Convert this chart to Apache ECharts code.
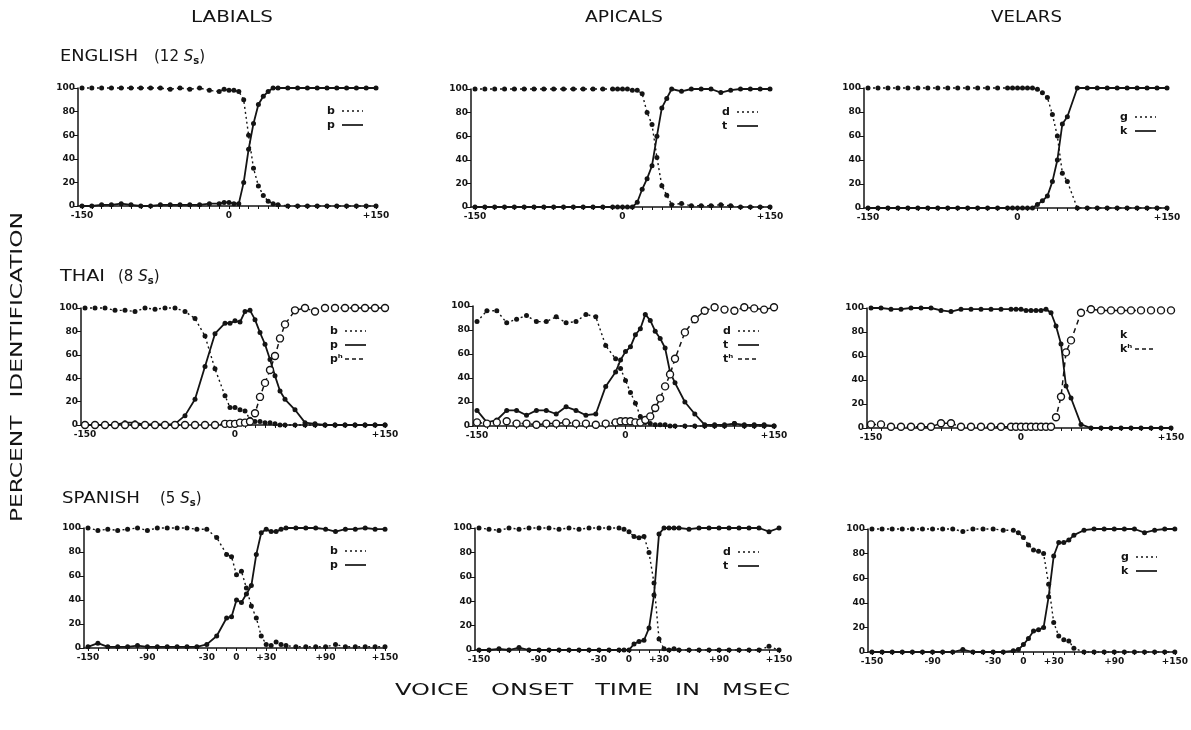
<!DOCTYPE html>
<html>
<head>
<meta charset="utf-8">
<script src="https://cdn.jsdelivr.net/npm/echarts@6/dist/echarts.min.js"></script>
<style>
html, body { margin: 0; padding: 0; background: #fff; }
#chart { width: 1191px; height: 730px; }
</style>
</head>
<body>
<div id="chart"></div>
<script>
// Stimulus voice onset times (msec): 10-msec steps, 5-msec steps near the boundary
const VOT = [-150,-140,-130,-120,-110,-100,-90,-80,-70,-60,-50,-40,-30,-20,-10,
             -5,0,5,10,15,20,25,30,35,40,45,50,
             60,70,80,90,100,110,120,130,140,150];

const XTICKS_TOP = [-150, 0, 150];
const XTICKS_BOTTOM = [-150, -90, -30, 0, 30, 90, 150];
const YTICKS = [0, 20, 40, 60, 80, 100];

const PLACES = ['LABIALS', 'APICALS', 'VELARS'];
const LANGUAGES = ['ENGLISH', 'THAI', 'SPANISH'];
const SUBJECTS = [12, 8, 5];

// Percent identification, English
const EN_B = [100,100,100,100,100,100,100,100,100,99,100,99,100,98,97, 99,98,98,97,90,60,32,17,9,4,2,1, 0,0,0,0,0,0,0,0,0,0];
const EN_P = [0,0,1,1,2,1,0,0,1,1,1,1,1,2,2, 3,3,2,2,20,48,70,86,93,97,100,100, 100,100,100,100,100,100,100,100,100,100];
const EN_D = [100,100,100,100,100,100,100,100,100,100,100,100,100,100,100, 100,100,100,99,99,96,80,70,42,18,10,2, 3,1,1,1,2,1,0,0,0,0];
const EN_T = [0,0,0,0,0,0,0,0,0,0,0,0,0,0,0, 0,0,0,0,4,15,24,35,60,84,92,100, 98,100,100,100,97,99,100,100,100,100];
const EN_G = [100,100,100,100,100,100,100,100,100,100,100,100,100,100,100, 100,100,100,100,100,99,96,92,78,60,29,22, 0,0,0,0,0,0,0,0,0,0];
const EN_K = [0,0,0,0,0,0,0,0,0,0,0,0,0,0,0, 0,0,0,0,0,3,6,10,22,40,70,76, 100,100,100,100,100,100,100,100,100,100];

// Percent identification, Thai
const TH_B  = [100,100,100,98,98,97,100,99,100,100,97,91,76,48,25, 15,15,13,12,5,3,3,2,2,1,0,0, 0,0,0,0,0,0,0,0,0,0];
const TH_P  = [0,0,0,0,2,2,0,1,0,1,8,22,50,78,87, 87,89,88,97,98,90,79,69,56,42,29,22, 13,2,1,0,0,0,0,0,0,0];
const TH_PH = [0,0,0,0,0,0,0,0,0,0,0,0,0,0,1, 1,1,2,2,3,10,24,36,47,59,74,86, 98,100,97,100,100,100,100,100,100,100];
const TH_D  = [87,96,96,86,89,92,87,87,91,86,87,93,91,67,56, 48,38,28,19,8,3,2,1,1,1,0,0, 0,0,0,0,0,2,0,0,0,0];
const TH_T  = [13,3,5,13,13,9,13,13,10,16,13,9,10,33,45, 55,62,66,76,81,93,88,79,73,65,45,36, 20,10,1,1,1,2,1,1,1,0];
const TH_TH = [3,2,3,4,2,2,1,2,2,3,2,2,1,2,3, 4,4,4,3,3,5,8,15,23,33,43,56, 78,89,96,99,97,96,99,98,97,99];
const TH_K  = [100,100,99,99,100,100,100,98,97,99,99,99,99,99,99, 99,99,98,98,98,98,99,96,85,70,35,25, 3,0,0,0,0,0,0,0,0,0];
const TH_KH = [3,3,1,1,1,1,1,4,4,1,1,1,1,1,1, 1,1,1,1,1,1,1,1,9,26,63,73, 96,99,98,98,98,98,98,98,98,98];

// Percent identification, Spanish
const ES_B = [100,98,99,98,99,100,98,100,100,100,100,99,99,92,78, 76,61,64,50,35,25,10,3,2,5,3,2, 1,1,1,1,3,1,1,1,1,1];
const ES_P = [1,4,1,1,1,2,1,1,1,1,1,1,3,10,25, 26,40,38,45,52,78,96,99,97,97,99,100, 100,100,100,99,97,99,99,100,99,99];
const ES_D = [100,99,98,100,99,100,100,100,99,100,99,100,100,100,100, 99,97,93,92,93,80,55,9,1,0,1,0, 0,0,0,0,0,0,0,0,3,0];
const ES_T = [0,0,1,0,2,0,0,0,0,0,0,0,0,0,0, 0,0,5,7,8,18,45,95,100,100,100,100, 99,100,100,100,100,100,100,100,97,100];
const ES_G = [100,100,100,100,100,100,100,100,100,98,100,100,100,99,99, 97,93,87,83,82,80,55,24,13,10,9,3, 0,0,0,0,0,0,0,0,0,0];
const ES_K = [0,0,0,0,0,0,0,0,0,2,0,0,0,0,1, 2,6,11,17,18,20,45,78,89,89,91,95, 99,100,100,100,100,100,97,99,100,100];

// Panels in reading order: rows = languages, columns = places of articulation
const PANEL_SERIES = [
  [['b', EN_B, 'voiced'], ['p', EN_P, 'plain']],
  [['d', EN_D, 'voiced'], ['t', EN_T, 'plain']],
  [['g', EN_G, 'voiced'], ['k', EN_K, 'plain']],
  [['b', TH_B, 'voiced'], ['p', TH_P, 'plain'], ['p\u02B0', TH_PH, 'aspirated']],
  [['d', TH_D, 'voiced'], ['t', TH_T, 'plain'], ['t\u02B0', TH_TH, 'aspirated']],
  [['k', TH_K, 'plain'], ['k\u02B0', TH_KH, 'aspirated']],
  [['b', ES_B, 'voiced'], ['p', ES_P, 'plain']],
  [['d', ES_D, 'voiced'], ['t', ES_T, 'plain']],
  [['g', ES_G, 'voiced'], ['k', ES_K, 'plain']]
];

// small ticks every 10 msec along each time axis
const MINOR_TICKS = [];
for (let t = -150; t <= 150; t += 10) MINOR_TICKS.push(t);

// ---- layout ----
const BOXES = [ // left, top, width, height of each plotting area (-150..+150, 0..100)
  [82, 88, 294, 118], [475, 89, 295, 118], [868, 88, 299, 120],
  [85, 308, 300, 117], [477, 306, 297, 120], [871, 308, 300, 120],
  [88, 528, 297, 120], [479, 528, 300, 122], [872, 529, 304, 123]
];
const AXIS_GAP = 4; // the value axis stands a little left of the first stimulus
const KEY_X = [245, 247, 252, 245, 246, 249, 242, 244, 249];
const KEY_Y = [23, 23, 29, 23, 25, 27, 23, 24, 28];
const INK = '#141414';
const FONT = '"DejaVu Sans", "Liberation Sans", sans-serif';

const STYLES = {
  voiced:    { line: { type: [2, 3], width: 1.4 }, size: 5, fill: INK, dash: [2, 3], lw: 1.4 },
  plain:     { line: { type: 'solid', width: 1.8 }, size: 5, fill: INK, dash: null, lw: 1.7 },
  aspirated: { line: { type: [5, 4], width: 1.5 }, size: 7, fill: '#fff', dash: [4, 3], lw: 1.5 }
};

const grids = [], xAxes = [], yAxes = [], series = [], graphics = [];

BOXES.forEach((b, i) => {
  const row = Math.floor(i / 3);
  const ticks = row < 2 ? XTICKS_TOP : XTICKS_BOTTOM;
  const msPerPx = 300 / b[2];
  grids.push({ left: b[0] - AXIS_GAP, top: b[1], width: b[2] + AXIS_GAP, height: b[3], containLabel: false });
  xAxes.push({
    gridIndex: i, type: 'value', min: -150 - AXIS_GAP * msPerPx, max: 150,
    axisLine: { show: true, onZero: false, lineStyle: { color: INK, width: 1.5 } },
    axisTick: { show: true, length: 3, customValues: MINOR_TICKS, lineStyle: { color: INK, width: 1 } },
    splitLine: { show: false },
    axisLabel: {
      customValues: ticks, margin: 5, hideOverlap: false,
      fontSize: 9, fontWeight: 'bold', fontFamily: FONT, color: INK,
      formatter: v => {
        const r = Math.round(v);
        return r > 0 ? '+' + r : String(r);
      }
    }
  });
  yAxes.push({
    gridIndex: i, type: 'value', min: 0, max: 100, interval: 20,
    axisLine: { show: true, onZero: false, lineStyle: { color: INK, width: 1.5 } },
    axisTick: { show: true, length: 4, lineStyle: { color: INK, width: 1 } },
    splitLine: { show: false },
    axisLabel: {
      margin: 3, fontSize: 9, fontWeight: 'bold', fontFamily: FONT, color: INK,
      formatter: v => (YTICKS.includes(Math.round(v)) ? String(Math.round(v)) : '')
    }
  });

  PANEL_SERIES[i].forEach(([label, values, kind], j) => {
    const st = STYLES[kind];
    series.push({
      name: LANGUAGES[row] + ' ' + PLACES[i % 3] + ' ' + label,
      type: 'line', xAxisIndex: i, yAxisIndex: i,
      data: VOT.map((x, k) => [x, values[k]]),
      symbol: 'circle', symbolSize: st.size, showSymbol: true, showAllSymbol: true,
      clip: false, animation: false, z: kind === 'aspirated' ? 4 : 3,
      lineStyle: { color: INK, width: st.line.width, type: st.line.type },
      itemStyle: { color: st.fill, borderColor: INK, borderWidth: kind === 'aspirated' ? 1.4 : 0 },
      emphasis: { disabled: true }
    });

    // key entry inside the panel
    const kx = b[0] + KEY_X[i];
    const ky = b[1] + KEY_Y[i] + j * 14;
    graphics.push({
      type: 'text', x: kx, y: ky, z: 10,
      style: { text: label, font: 'bold 11px ' + FONT, fill: INK,
               align: 'left', verticalAlign: 'middle', textAlign: 'left', textVerticalAlign: 'middle' }
    });
    const keyLineHidden = (i === 5 && j === 0);
    if (!keyLineHidden) {
      graphics.push({
        type: 'line', z: 10,
        shape: { x1: kx + 15, y1: ky, x2: kx + 36, y2: ky },
        style: { stroke: INK, lineWidth: st.lw, lineDash: st.dash }
      });
    }
  });
});

// ---- titles: word-level placement with horizontal fitting ----
const measure = document.createElement('canvas').getContext('2d');
function textW(str, font) { measure.font = font; return measure.measureText(str).width; }

function fitWord(str, x0, x1, yc, size) {
  const font = size + 'px ' + FONT;
  const w = textW(str, font);
  return {
    type: 'text', x: x0, y: yc, scaleX: (x1 - x0) / w, z: 10,
    style: { text: str, font: font, fill: INK, align: 'left', verticalAlign: 'middle',
             textAlign: 'left', textVerticalAlign: 'middle' }
  };
}

// Words spread over a span with a fixed gap; glyphs stretched to fill the rest
function spreadWords(words, x0, x1, yc, size, gap) {
  const font = size + 'px ' + FONT;
  const nat = words.map(w => textW(w, font));
  const stretch = (x1 - x0 - gap * (words.length - 1)) / nat.reduce((a, c) => a + c, 0);
  let x = x0;
  return words.map((w, k) => {
    const el = {
      type: 'text', x: x, y: yc, scaleX: stretch, z: 10,
      style: { text: w, font: font, fill: INK, align: 'left', verticalAlign: 'middle',
               textAlign: 'left', textVerticalAlign: 'middle' }
    };
    x += nat[k] * stretch + gap;
    return el;
  });
}

function spreadWordsVertical(words, yBottom, yTop, xc, size, gap) {
  const font = size + 'px ' + FONT;
  const nat = words.map(w => textW(w, font));
  const stretch = (yBottom - yTop - gap * (words.length - 1)) / nat.reduce((a, c) => a + c, 0);
  let y = yBottom;
  return words.map((w, k) => {
    const el = {
      type: 'text', x: xc, y: y, rotation: Math.PI / 2, scaleX: stretch, z: 10,
      style: { text: w, font: font, fill: INK, align: 'left', verticalAlign: 'middle',
               textAlign: 'left', textVerticalAlign: 'middle' }
    };
    y -= nat[k] * stretch + gap;
    return el;
  });
}

// column headings
graphics.push(fitWord(PLACES[0], 191, 273, 18, 15));
graphics.push(fitWord(PLACES[1], 585, 663, 18, 15));
graphics.push(fitWord(PLACES[2], 991, 1062, 18, 15));

// row headings: language and number of subjects
const ROW_Y = [57, 277, 499];
const NAME_SPAN = [[60, 138], [60, 105], [62, 140]];
const PAREN_X = [154, 118, 160];
LANGUAGES.forEach((lang, r) => {
  graphics.push(fitWord(lang, NAME_SPAN[r][0], NAME_SPAN[r][1], ROW_Y[r], 15));
  graphics.push({
    type: 'text', x: PAREN_X[r], y: ROW_Y[r], z: 10,
    style: {
      text: '(' + SUBJECTS[r] + ' {i|S}{sub|s})',
      font: '15px ' + FONT, fill: INK, align: 'left', verticalAlign: 'middle',
      textAlign: 'left', textVerticalAlign: 'middle', lineHeight: 18,
      rich: {
        i: { fontStyle: 'italic', fontSize: 15, fontFamily: FONT, fill: INK, lineHeight: 18 },
        sub: { fontSize: 10, fontWeight: 'bold', fontFamily: FONT, fill: INK, lineHeight: 18, verticalAlign: 'bottom' }
      }
    }
  });
});

// axis titles
graphics.push(...spreadWords(['VOICE', 'ONSET', 'TIME', 'IN', 'MSEC'], 395, 790, 691, 16, 22));
graphics.push(...spreadWordsVertical(['PERCENT', 'IDENTIFICATION'], 522, 212, 18, 16, 18));

const chart = echarts.init(document.getElementById('chart'), null, { renderer: 'canvas' });
chart.setOption({
  backgroundColor: '#fff',
  animation: false,
  grid: grids,
  xAxis: xAxes,
  yAxis: yAxes,
  series: series,
  graphic: graphics
});
</script>
</body>
</html>
